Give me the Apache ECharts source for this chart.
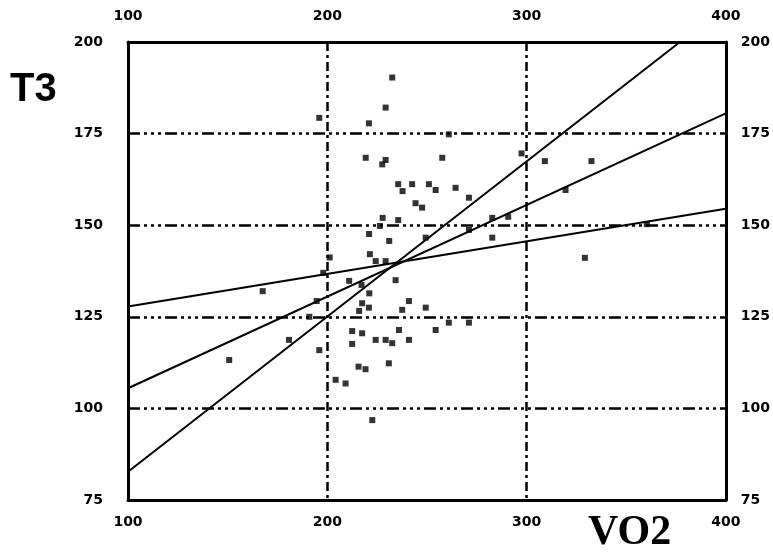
<!DOCTYPE html>
<html>
<head>
<meta charset="utf-8">
<script src="https://cdn.jsdelivr.net/npm/echarts@6/dist/echarts.min.js"></script>
<style>html,body{margin:0;padding:0;background:#fff;}#c{width:773px;height:554px;}</style>
</head>
<body>
<div id="c"></div>
<script>
// Tick labels
const xTicks = [100, 200, 300, 400];
const yTicks = [75, 100, 125, 150, 175, 200];
// Scatter data: VO2 (x) and T3 (y)
const vo2 = [232.6,229.3,220.9,196.0,261.0,219.3,229.3,227.6,257.7,235.6,242.6,251.0,254.4,264.4,237.8,244.3,247.6,271.1,297.5,309.2,332.6,319.6,227.8,235.6,226.4,282.8,290.8,271.1,249.4,282.8,231.1,329.3,224.3,229.3,221.0,201.2,198.0,221.4,167.6,211.0,217.2,221.1,194.7,217.5,241.0,249.4,216.0,220.9,237.6,191.0,261.0,271.1,180.8,150.8,196.0,212.5,212.5,217.5,224.3,229.3,232.6,241.0,236.0,254.4,215.7,219.2,230.9,204.2,209.2,222.6,360.4,234.3];
const t3  = [190.3,182.1,177.8,179.3,174.8,168.4,167.8,166.6,168.4,161.2,161.2,161.2,159.6,160.2,159.3,156.0,154.8,157.5,169.6,167.5,167.5,159.6,152.0,151.4,149.8,152.0,152.3,148.7,146.6,146.6,145.7,141.1,140.2,140.2,147.6,141.2,137.0,142.1,132.0,134.8,133.7,131.4,129.3,128.7,129.3,127.5,126.6,127.5,126.9,125.0,123.4,123.4,118.7,113.2,115.9,121.1,117.6,120.5,118.7,118.7,117.8,118.7,121.4,121.4,111.4,110.7,112.3,107.8,106.8,96.8,150.3,135.0];
// Fitted lines (endpoints)
const midLineX = [100, 400];
const midLineY = [105.5, 180.5];
const flatLineX = [100, 400];
const flatLineY = [127.8, 154.5];
const steepLineX = [100, 377];
const steepLineY = [82.7, 200];

const pairs = (xs, ys) => xs.map((x, i) => [x, ys[i]]);
const tickFont = {fontFamily: 'DejaVu Sans', fontWeight: 'bold', fontSize: 14, color: '#000'};
const axisLine = {show: true, onZero: false, lineStyle: {color: '#000', width: 3}};

function xAxis(pos, margin, grid) {
  return {
    type: 'value', position: pos, min: 100, max: 400, interval: 100,
    axisLine: axisLine, axisTick: {show: false},
    axisLabel: Object.assign({margin: margin, formatter: v => xTicks.includes(v) ? String(v) : ''}, tickFont),
    splitLine: {show: grid, lineStyle: {color: '#000', width: 2.5, type: [9, 4, 3, 4]}}
  };
}
function yAxis(pos, margin, grid) {
  return {
    type: 'value', position: pos, min: 75, max: 200, interval: 25,
    axisLine: axisLine, axisTick: {show: false},
    axisLabel: Object.assign({margin: margin, formatter: v => yTicks.includes(v) ? String(v) : ''}, tickFont),
    splitLine: {show: grid, lineStyle: {color: '#000', width: 2.5, type: [12, 4, 3, 4, 3, 4, 3, 4]}}
  };
}
const lineStyle = {color: '#000', width: 2};
const chart = echarts.init(document.getElementById('c'));
chart.setOption({
  animation: false,
  backgroundColor: '#fff',
  grid: {left: 128, right: 47, top: 42, bottom: 54, containLabel: false},
  xAxis: [xAxis('bottom', 15, true), xAxis('top', 19, false)],
  yAxis: [yAxis('left', 25, true), yAxis('right', 15, false)],
  graphic: [
    {type: 'text', left: 10, top: 70, style: {text: 'T3', font: 'bold 40px "Liberation Sans"', fill: '#000'}},
    {type: 'text', left: 588, top: 512, style: {text: 'VO2', font: 'bold 42px "Liberation Serif"', fill: '#000'}}
  ],
  series: [
    {type: 'line', data: pairs(midLineX, midLineY), symbol: 'none', lineStyle: lineStyle, silent: true},
    {type: 'line', data: pairs(flatLineX, flatLineY), symbol: 'none', lineStyle: lineStyle, silent: true},
    {type: 'line', data: pairs(steepLineX, steepLineY), symbol: 'none', lineStyle: lineStyle, silent: true},
    {type: 'scatter', data: pairs(vo2, t3), symbol: 'rect', symbolSize: 6, itemStyle: {color: '#000'}}
  ]
});
</script>
</body>
</html>
